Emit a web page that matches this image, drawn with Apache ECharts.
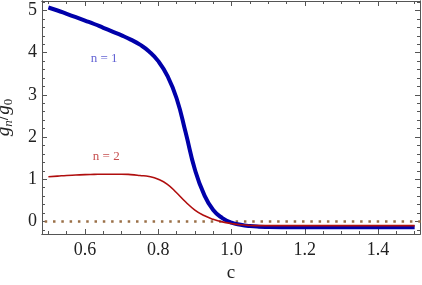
<!DOCTYPE html>
<html><head><meta charset="utf-8">
<script src="https://cdn.jsdelivr.net/npm/echarts@6/dist/echarts.min.js"></script>
<style>html,body{margin:0;padding:0;background:#fff}#c{width:422px;height:285px}</style>
</head><body><div id="c"></div>
<script>
// ---- data ----
const cValues = [0.5,0.525,0.55,0.575,0.6,0.625,0.65,0.675,0.7,0.725,0.75,0.775,0.8,0.825,0.85,0.875,0.9,0.925,0.95,0.975,1.0,1.025,1.05,1.075,1.1,1.2,1.3,1.4,1.5];
const g1 = [5.07,5.00,4.92,4.84,4.76,4.68,4.59,4.50,4.41,4.31,4.19,4.03,3.80,3.45,2.92,2.10,1.23,0.64,0.27,0.08,-0.03,-0.08,-0.11,-0.125,-0.13,-0.14,-0.14,-0.14,-0.14];
const g2 = [1.06,1.075,1.09,1.10,1.11,1.115,1.12,1.12,1.12,1.11,1.09,1.065,1.00,0.88,0.68,0.46,0.27,0.14,0.05,-0.01,-0.05,-0.08,-0.095,-0.10,-0.10,-0.10,-0.10,-0.10,-0.10];
const zeroLineC = [0.49, 1.52];
const zeroLineV = [0, 0];
const xMajor = [0.6,0.8,1.0,1.2,1.4];
const xMinor = [0.5,0.55,0.65,0.7,0.75,0.85,0.9,0.95,1.05,1.1,1.15,1.25,1.3,1.35,1.45,1.5];
const yMajor = [0,1,2,3,4,5];
const yMinor = [-0.2,0.2,0.4,0.6,0.8,1.2,1.4,1.6,1.8,2.2,2.4,2.6,2.8,3.2,3.4,3.6,3.8,4.2,4.4,4.6,4.8,5.2];
const labelText = ['n = 1','n = 2'];
const labelPos = [[0.652,3.87],[0.658,1.53]];
const labelColors = ['#3a3ac8','#b82222'];
const xRange = [0.4826, 1.5146];
const yRange = [-0.298, 5.225];

const serif = 'Liberation Serif';
const axCol = '#555';
const zip = (a,b)=>a.map((v,i)=>[v,b[i]]);

function xAx(pos, ticks, len, labels, extra){
  return Object.assign({
    type:'value', position:pos, min:xRange[0], max:xRange[1],
    axisLine:{show:true, onZero:false, lineStyle:{color:axCol,width:1}},
    axisTick:{show:true, inside:true, length:len, customValues:ticks, lineStyle:{color:axCol,width:1}},
    axisLabel:labels ? {show:true, customValues:xMajor, formatter:v=>v.toFixed(1), fontFamily:serif, fontSize:18, color:'#222', margin:7} : {show:false},
    splitLine:{show:false}
  }, extra||{});
}
function yAx(pos, ticks, len, labels, extra){
  return Object.assign({
    type:'value', position:pos, min:yRange[0], max:yRange[1],
    axisLine:{show:true, onZero:false, lineStyle:{color:axCol,width:1}},
    axisTick:{show:true, inside:true, length:len, customValues:ticks, lineStyle:{color:axCol,width:1}},
    axisLabel:labels ? {show:true, customValues:yMajor, formatter:v=>String(Math.round(v)), fontFamily:serif, fontSize:18, color:'#222', margin:5} : {show:false},
    splitLine:{show:false}
  }, extra||{});
}

const chart = echarts.init(document.getElementById('c'), null, {renderer:'canvas'});
chart.setOption({
  animation:false,
  backgroundColor:'#fff',
  grid:{left:42, right:2, top:1, bottom:51, containLabel:false, outerBoundsMode:'none'},
  xAxis:[
    xAx('bottom', xMajor, 5, true, {name:'c', nameLocation:'middle', nameGap:29, nameTextStyle:{fontFamily:serif, fontSize:19, color:'#222'}}),
    xAx('bottom', xMinor, 3, false),
    xAx('top', xMajor, 5, false),
    xAx('top', xMinor, 3, false)
  ],
  yAxis:[
    yAx('left', yMajor, 5, true, {
      name:'{i|g}{s|n}{u|/}{i|g}{t|0}', nameLocation:'middle', nameRotate:90, nameGap:27,
      nameTextStyle:{color:'#222', rich:{
        i:{fontFamily:serif, fontStyle:'italic', fontSize:19, color:'#222'},
        u:{fontFamily:serif, fontSize:19, color:'#222'},
        s:{fontFamily:serif, fontStyle:'italic', fontSize:13, color:'#222', padding:[10,0,0,0]},
        t:{fontFamily:serif, fontSize:13, color:'#222', padding:[10,0,0,0]}
      }}
    }),
    yAx('left', yMinor, 3, false),
    yAx('right', yMajor, 5, false),
    yAx('right', yMinor, 3, false)
  ],
  series:[
    {type:'line', data:zip(zeroLineC, zeroLineV), showSymbol:false, symbol:'none',
     lineStyle:{color:'#9a7048', width:2.5, type:[2.5,5.8], cap:'butt'}, z:1},
    {type:'line', data:zip(cValues, g1), showSymbol:false, symbol:'none', smooth:0.5,
     lineStyle:{color:'#0000aa', width:4}, z:2},
    {type:'line', data:zip(cValues, g2), showSymbol:false, symbol:'none', smooth:0.5,
     lineStyle:{color:'#b00e0e', width:1.6}, z:3},
    {type:'scatter', data:labelPos.map((p,i)=>({value:p, name:labelText[i],
        label:{color:labelColors[i]}})), symbolSize:0, z:4,
     label:{show:true, position:'inside', formatter:p=>p.name, fontFamily:serif, fontSize:13}}
  ]
});
</script></body></html>
